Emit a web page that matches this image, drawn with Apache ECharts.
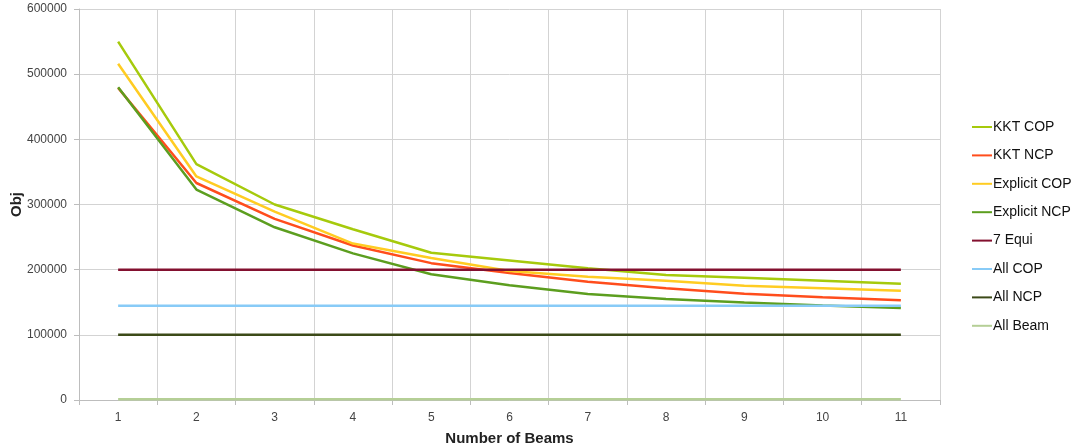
<!DOCTYPE html>
<html>
<head>
<meta charset="utf-8">
<script src="https://cdn.jsdelivr.net/npm/echarts@6/dist/echarts.min.js"></script>
<style>html,body{margin:0;padding:0;background:#fff;}#c{width:1075px;height:448px;}</style>
</head>
<body>
<div id="c"></div>
<script>
var categories = ['1','2','3','4','5','6','7','8','9','10','11'];
var kktCOP      = [550000, 362000, 300000, 262000, 226000, 214000, 202000, 192000, 187500, 183000, 178500];
var kktNCP      = [479000, 333000, 278000, 237000, 210000, 195000, 181500, 171500, 163000, 157500, 153000];
var explicitCOP = [516000, 343000, 289000, 240000, 218000, 198000, 189000, 183000, 175500, 171500, 167500];
var explicitNCP = [480000, 323000, 265000, 225000, 193000, 176000, 162500, 155000, 149500, 145000, 141000];
var equi7       = [200000, 200000, 200000, 200000, 200000, 200000, 200000, 200000, 200000, 200000, 200000];
var allCOP      = [144500, 144500, 144500, 144500, 144500, 144500, 144500, 144500, 144500, 144500, 144500];
var allNCP      = [100000, 100000, 100000, 100000, 100000, 100000, 100000, 100000, 100000, 100000, 100000];
var allBeam     = [1000, 1000, 1000, 1000, 1000, 1000, 1000, 1000, 1000, 1000, 1000];
var yTicks = [0, 100000, 200000, 300000, 400000, 500000, 600000];

var seriesDefs = [
  ['KKT COP', kktCOP, '#a6ca0c'],
  ['KKT NCP', kktNCP, '#ff4d1c'],
  ['Explicit COP', explicitCOP, '#ffcc22'],
  ['Explicit NCP', explicitNCP, '#5c9e1f'],
  ['7 Equi', equi7, '#83102f'],
  ['All COP', allCOP, '#88cbf7'],
  ['All NCP', allNCP, '#3c4a18'],
  ['All Beam', allBeam, '#b5cf96']
];

var chart = echarts.init(document.getElementById('c'), null, {renderer: 'canvas'});
chart.setOption({
  animation: false,
  backgroundColor: '#ffffff',
  grid: {left: 79, right: 135, top: 9, bottom: 48, containLabel: false, outerBoundsMode: 'none'},
  legend: {
    orient: 'vertical',
    left: 967,
    top: 115,
    icon: 'rect',
    itemWidth: 20,
    itemHeight: 2,
    itemGap: 14.4,
    textStyle: {fontFamily: 'Liberation Sans, Arial, sans-serif', fontSize: 14, color: '#111', padding: [0,0,0,-4]},
    data: seriesDefs.map(function(s){return s[0];})
  },
  xAxis: {
    type: 'category',
    data: categories,
    boundaryGap: true,
    name: 'Number of Beams',
    nameLocation: 'middle',
    nameGap: 31,
    nameTextStyle: {fontFamily: 'Liberation Sans, Arial, sans-serif', fontSize: 15, fontWeight: 'bold', color: '#222'},
    axisLine: {lineStyle: {color: '#bdbdbd', width: 1}},
    axisTick: {show: true, length: 5, lineStyle: {color: '#bdbdbd'}},
    axisLabel: {fontFamily: 'Liberation Sans, Arial, sans-serif', fontSize: 12, color: '#444', margin: 12},
    splitLine: {show: true, lineStyle: {color: '#d3d3d3', width: 1}}
  },
  yAxis: {
    type: 'value',
    min: 0,
    max: 600000,
    interval: 100000,
    name: 'Obj',
    nameLocation: 'middle',
    nameGap: 55,
    nameMoveOverlap: false,
    nameRotate: 90,
    nameTextStyle: {fontFamily: 'Liberation Sans, Arial, sans-serif', fontSize: 15, fontWeight: 'bold', color: '#222'},
    axisLine: {show: true, lineStyle: {color: '#bdbdbd', width: 1}},
    axisTick: {show: true, length: 5, lineStyle: {color: '#bdbdbd'}},
    axisLabel: {fontFamily: 'Liberation Sans, Arial, sans-serif', fontSize: 12, color: '#444', margin: 12,
      formatter: function(v){ return yTicks.indexOf(v) >= 0 ? String(v) : ''; }},
    splitLine: {show: true, lineStyle: {color: '#d3d3d3', width: 1}}
  },
  series: seriesDefs.map(function(s){
    return {
      name: s[0],
      type: 'line',
      data: s[1],
      symbol: 'none',
      showSymbol: false,
      lineStyle: {color: s[2], width: 2.5},
      itemStyle: {color: s[2]}
    };
  })
});
</script>
</body>
</html>
